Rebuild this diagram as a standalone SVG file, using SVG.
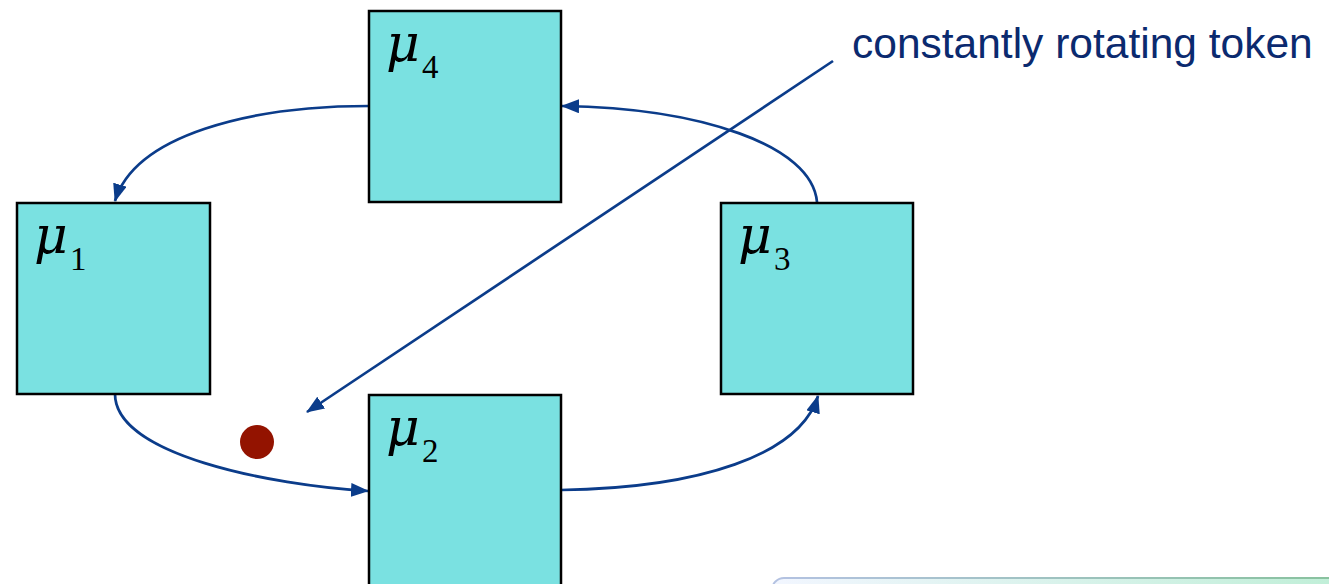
<svg xmlns="http://www.w3.org/2000/svg" width="1329" height="584" viewBox="0 0 1329 584">
<style>
.box{fill:#7ae1e1;stroke:#000;stroke-width:2.5}
.mu{font-family:"DejaVu Serif",serif;font-style:italic;font-size:52px;fill:#000}
.sub{font-family:"Liberation Serif",serif;font-size:33px;fill:#000}
.conn{fill:none;stroke:#0b3c8a;stroke-width:2.7}
.lbl{font-family:"Liberation Sans",Arial,sans-serif;font-size:42.5px;fill:#0b2a6f}
</style>
<defs>
<marker id="ah" markerWidth="18" markerHeight="14" refX="17" refY="7" orient="auto" markerUnits="userSpaceOnUse">
<path d="M0,0 L18,7 L0,14 Z" fill="#0b3c8a"/>
</marker>
<linearGradient id="pg" x1="0" y1="0" x2="1" y2="0">
<stop offset="0" stop-color="#f2f6ff"/>
<stop offset="1" stop-color="#bdeed5"/>
</linearGradient>
<linearGradient id="ps" x1="0" y1="0" x2="1" y2="0">
<stop offset="0" stop-color="#b4c2e2"/>
<stop offset="1" stop-color="#86c29a"/>
</linearGradient>
</defs>
<rect x="772" y="578" width="600" height="40" rx="12" fill="url(#pg)" stroke="url(#ps)" stroke-width="2"/>
<g id="connectors">
<path class="conn" d="M369,106 C250,106 135,135 115,201" marker-end="url(#ah)"/>
<path class="conn" d="M115,394 C115,455 270,485 368,491" marker-end="url(#ah)"/>
<path class="conn" d="M561,490 C700,488 800,455 818,396" marker-end="url(#ah)"/>
<path class="conn" d="M817,202 C812,145 700,108 562,106" marker-end="url(#ah)"/>
<path class="conn" d="M833,61 L307,412" marker-end="url(#ah)"/>
</g>
<g id="mu4"><rect class="box" x="369" y="11" width="192" height="191"/><text x="386" y="61" class="mu">μ</text><text x="422" y="78" class="sub">4</text></g>
<g id="mu1"><rect class="box" x="17" y="203" width="193" height="191"/><text x="34" y="253" class="mu">μ</text><text x="70" y="270" class="sub">1</text></g>
<g id="mu3"><rect class="box" x="721" y="203" width="192" height="191"/><text x="738" y="253" class="mu">μ</text><text x="774" y="270" class="sub">3</text></g>
<g id="mu2"><rect class="box" x="369" y="395" width="192" height="200"/><text x="386" y="445" class="mu">μ</text><text x="422" y="462" class="sub">2</text></g>
<g id="token"><circle cx="257" cy="442" r="17" fill="#931300"/></g>
<g id="label"><text x="852" y="58" class="lbl">constantly rotating token</text></g>
</svg>
